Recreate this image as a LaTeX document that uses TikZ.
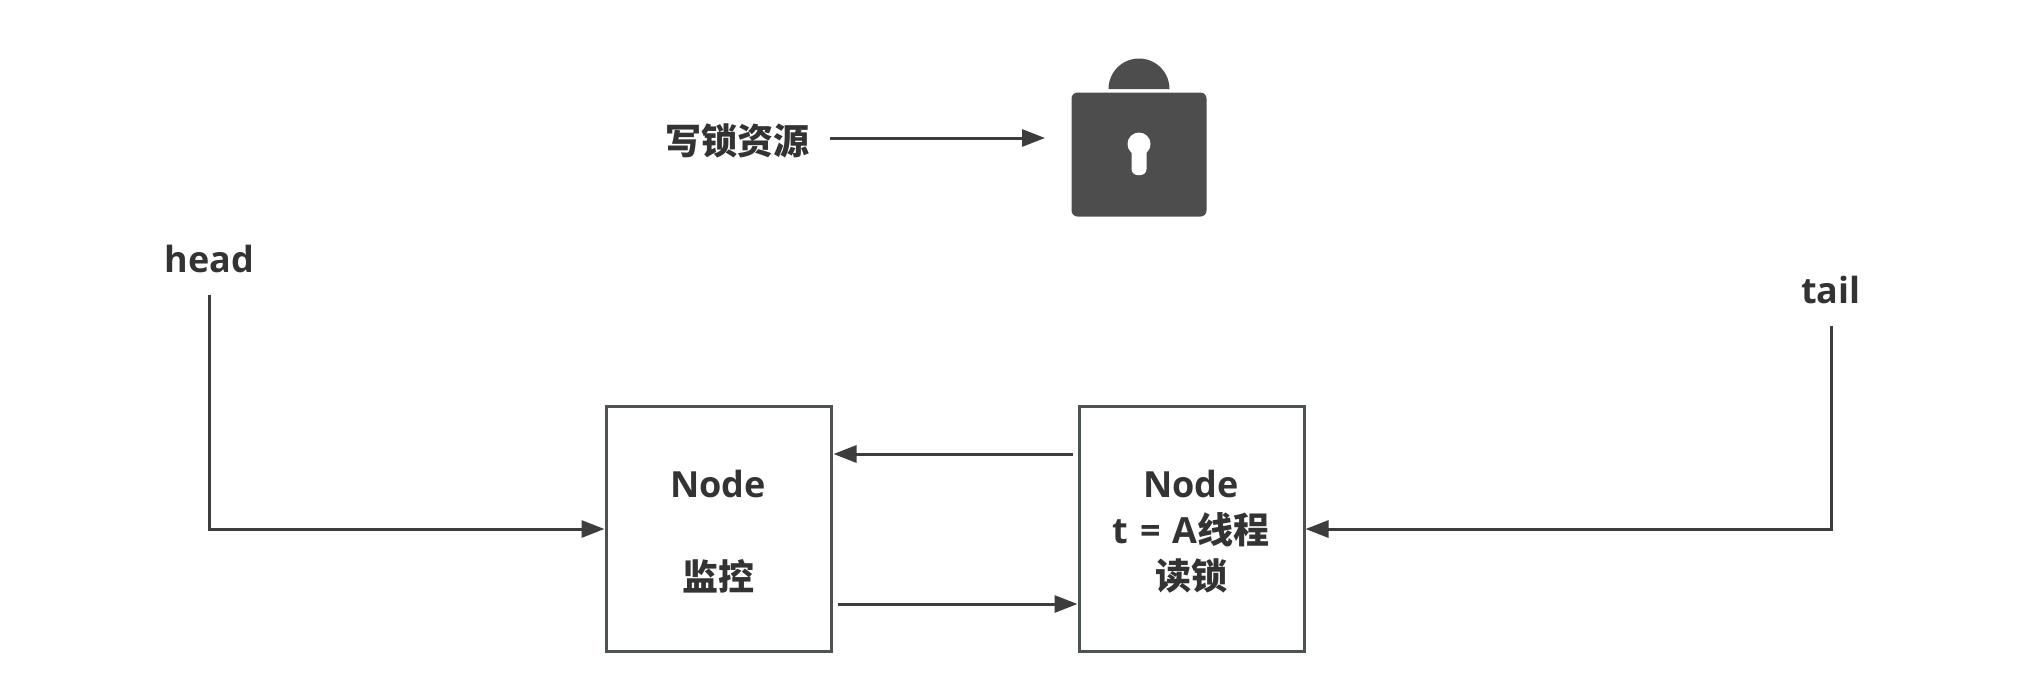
\documentclass[tikz,border=0pt]{standalone}
\usepackage{fontspec}
\setmainfont{Open Sans}[BoldFont={Open Sans Bold}]
\newfontfamily\cjk{Noto Sans CJK SC Bold}
\usetikzlibrary{arrows.meta,calc}
\definecolor{ink}{HTML}{333333}
\definecolor{edge}{HTML}{4D5254}
\definecolor{lockc}{HTML}{4D4D4D}
\tikzset{
  nodebox/.style={draw=edge,line width=3pt,minimum width=225pt,minimum height=245pt,inner sep=0pt,fill=white},
  lbl/.style={text=ink,inner sep=0pt,font=\fontsize{36}{46}\selectfont\bfseries,align=center},
  link/.style={draw=ink!95,line width=3pt,-{Triangle[length=23pt,width=17pt]}},
  lockbody/.style={fill=lockc,rounded corners=6pt,minimum width=135pt,minimum height=124pt,inner sep=0pt}
}
\begin{document}
\begin{tikzpicture}[x=1pt,y=-1pt]
\useasboundingbox (0,0) rectangle (2029,673);
% lock
\node[lockbody] (lock) at (1139,154.5) {};
\fill[lockc] (1108.5,89) arc[start angle=180,end angle=360,radius=30.5] -- cycle;
\fill[white] (1139,144) circle[radius=11.5];
\fill[white,rounded corners=6pt] (1131.5,146) rectangle (1146.5,175);
% labels
\node[lbl] (res) at (737.5,141) {\cjk 写锁资源};
\node[lbl] (head) at (209.5,259) {head};
\node[lbl] (tail) at (1831,290) {tail};
% boxes
\node[nodebox] (b1) at (718.5,529) {};
\node[nodebox] (b2) at (1191.5,529) {};
\node[lbl] at (718,484) {Node};
\node[lbl] at (718,576) {\cjk 监控};
\node[lbl] at (1191,484) {Node};
\node[lbl] at (1191,530) {t\hspace{0.32em}=\hspace{0.32em}A\cjk 线程};
\node[lbl] at (1191,576) {\cjk 读锁};
% connectors
\coordinate (resout) at (830,138);
\coordinate (lockin) at (1045,138);
\draw[link] (resout) -- (lockin);
\coordinate (headout) at (209,295);
\coordinate (tailout) at (1831,326);
\draw[link] (headout) |- (b1.west);
\draw[link] (tailout) |- (b2.east);
\draw[link] ([shift={(-5,-75)}]b2.west) -- ([shift={(1,-75)}]b1.east);
\draw[link] ([shift={(5,75)}]b1.east) -- ([shift={(0,75)}]b2.west);
\end{tikzpicture}
\end{document}
